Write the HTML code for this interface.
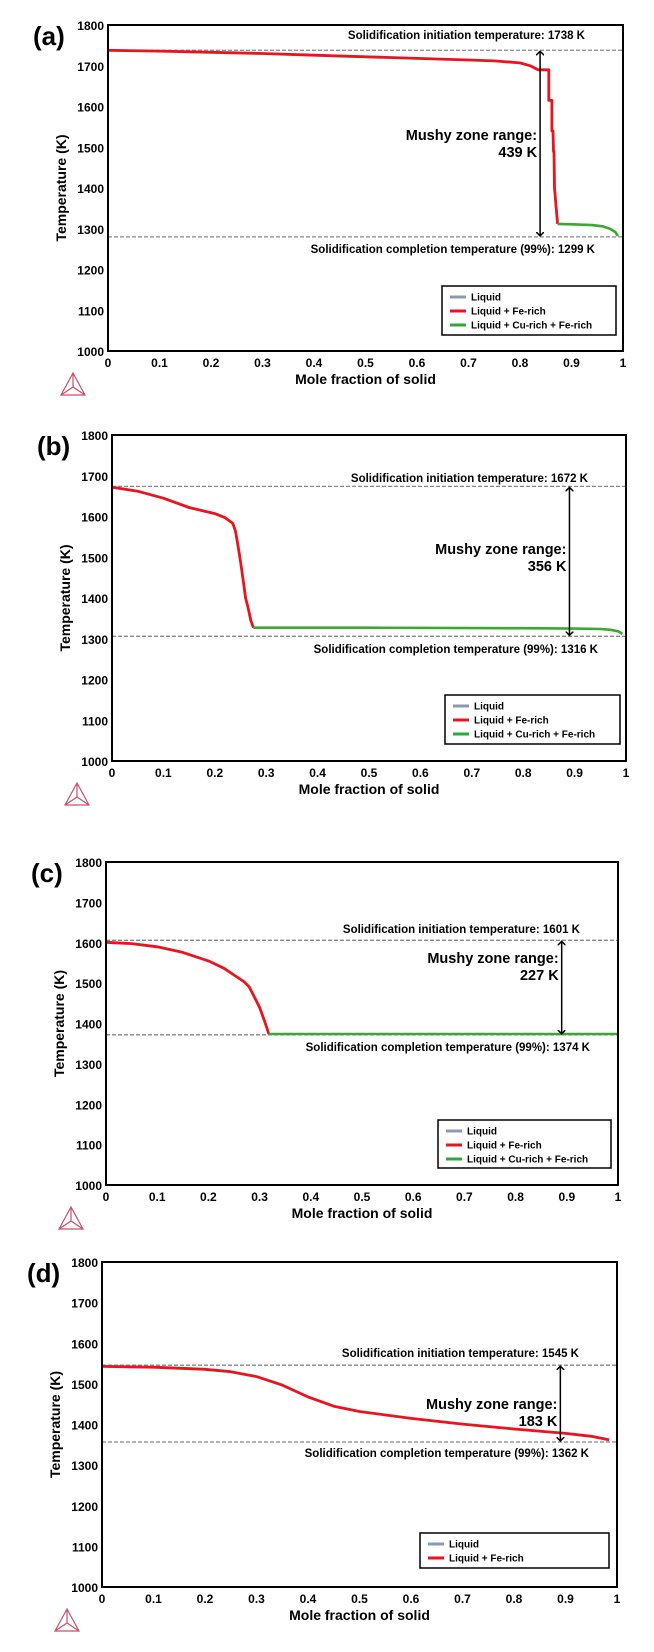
<!DOCTYPE html>
<html><head><meta charset="utf-8">
<style>
body{margin:0;background:#fff;width:654px;height:1652px;overflow:hidden}
svg{display:block;font-family:"Liberation Sans",sans-serif}
</style></head>
<body>
<svg id="fig" width="654" height="1652" viewBox="0 0 654 1652"></svg>
<script>
const xTicks=[0,0.1,0.2,0.3,0.4,0.5,0.6,0.7,0.8,0.9,1];
const xTickLabels=["0","0.1","0.2","0.3","0.4","0.5","0.6","0.7","0.8","0.9","1"];
const yTicks=[1000,1100,1200,1300,1400,1500,1600,1700,1800];
const panelLetters=["(a)","(b)","(c)","(d)"];
// panel a
const aRedX=[0,0.1,0.2,0.3,0.4,0.5,0.6,0.7,0.75,0.8,0.82,0.835,0.856,0.856,0.862,0.862,0.864,0.865,0.866,0.867,0.873];
const aRedT=[1738,1736,1733,1730,1726,1722,1718,1714,1712,1707,1700,1690,1690,1615,1615,1540,1540,1490,1490,1400,1312];
const aGreenX=[0.873,0.9,0.94,0.96,0.975,0.985,0.99];
const aGreenT=[1312,1311,1309,1306,1300,1292,1282];
const aLines=[1738,1280];
// panel b
const bRedX=[0,0.05,0.1,0.15,0.2,0.22,0.235,0.24,0.245,0.25,0.255,0.26,0.265,0.27,0.275];
const bRedT=[1672,1662,1645,1622,1607,1597,1583,1565,1530,1490,1445,1400,1375,1345,1327];
const bGreenX=[0.275,0.5,0.8,0.9,0.95,0.97,0.985,0.993];
const bGreenT=[1327,1327,1326,1325,1324,1322,1318,1312];
const bLines=[1674,1306];
// panel c
const cRedX=[0,0.05,0.1,0.15,0.2,0.23,0.25,0.27,0.28,0.29,0.3,0.31,0.318];
const cRedT=[1601,1598,1590,1576,1555,1537,1520,1503,1490,1465,1440,1405,1374];
const cGreenX=[0.318,0.6,1];
const cGreenT=[1374,1374,1374];
const cLines=[1606,1372];
// panel d
const dRedX=[0,0.1,0.2,0.25,0.3,0.35,0.4,0.45,0.5,0.6,0.7,0.8,0.9,0.95,0.985];
const dRedT=[1543,1541,1536,1530,1518,1497,1468,1445,1432,1415,1401,1389,1378,1371,1362];
const dLines=[1546,1357];

const panels=[
 {box:[108,25,623,351],red:[aRedX,aRedT],green:[aGreenX,aGreenT],lines:aLines,arrowX:0.839,
  init:"Solidification initiation temperature: 1738 K",comp:"Solidification completion temperature (99%): 1299 K",
  mushy:"439 K",initY:39,compY:253,mushyY:140,legend:[442,286,616,335],three:true},
 {box:[112,435,626,761],red:[bRedX,bRedT],green:[bGreenX,bGreenT],lines:bLines,arrowX:0.89,
  init:"Solidification initiation temperature: 1672 K",comp:"Solidification completion temperature (99%): 1316 K",
  mushy:"356 K",initY:482,compY:653,mushyY:554,legend:[445,695,620,744],three:true},
 {box:[106,862,618,1185],red:[cRedX,cRedT],green:[cGreenX,cGreenT],lines:cLines,arrowX:0.89,
  init:"Solidification initiation temperature: 1601 K",comp:"Solidification completion temperature (99%): 1374 K",
  mushy:"227 K",initY:933,compY:1051,mushyY:963,legend:[438,1120,611,1168],three:true},
 {box:[102,1262,617,1587],red:[dRedX,dRedT],green:null,lines:dLines,arrowX:0.89,
  init:"Solidification initiation temperature: 1545 K",comp:"Solidification completion temperature (99%): 1362 K",
  mushy:"183 K",initY:1357,compY:1457,mushyY:1409,legend:[420,1533,609,1568],three:false}
];
const NS="http://www.w3.org/2000/svg";
const svg=document.getElementById('fig');
function mk(tag,attrs,parent,text){const e=document.createElementNS(NS,tag);for(const k in attrs)e.setAttribute(k,attrs[k]);if(text!==undefined)e.textContent=text;(parent||svg).appendChild(e);return e;}
const defs=mk('defs',{});
const mkr=mk('marker',{id:'ah',markerWidth:8,markerHeight:8,refX:4,refY:4,orient:'auto-start-reverse',markerUnits:'userSpaceOnUse'},defs);
mk('path',{d:'M0,0 L4,4 L0,8',fill:'none',stroke:'#000','stroke-width':1.5},mkr);

panels.forEach((p,i)=>{
 const [x0,y0,x1,y1]=p.box;
 const sx=v=>x0+v*(x1-x0);
 const sy=t=>y1-(t-1000)/800*(y1-y0);
 const g=mk('g',{});
 
 
 const lt=mk('text',{x:x0-75,y:y0+20,'font-size':26,'font-weight':'bold'},g,panelLetters[i]);
 
 
 yTicks.forEach(t=>{const e=mk('text',{x:x0-4,y:sy(t)+5,'font-size':12,'font-weight':'bold','text-anchor':'end'},g,String(t));
  });
 xTicks.forEach((v,j)=>{const e=mk('text',{x:sx(v),y:y1+16,'font-size':12,'font-weight':'bold','text-anchor':'middle'},g,xTickLabels[j]);
  });
 const xt=mk('text',{x:(x0+x1)/2,y:y1+33,'font-size':14,'font-weight':'bold','text-anchor':'middle'},g,'Mole fraction of solid');
 
 const yc=(y0+y1)/2;
 const yt=mk('text',{x:x0-42,y:yc,'font-size':14,'font-weight':'bold','text-anchor':'middle',transform:`rotate(-90 ${x0-42} ${yc})`},g,'Temperature (K)');
 
 p.lines.forEach(t=>{const l=mk('line',{x1:x0,x2:x1,y1:sy(t),y2:sy(t),stroke:'#888','stroke-width':1.3,'stroke-dasharray':'4,2'},g);
  });
 const path=(xs,ts)=>xs.map((v,k)=>(k?'L':'M')+sx(v).toFixed(1)+','+sy(ts[k]).toFixed(1)).join(' ');
 const r=mk('path',{d:path(p.red[0],p.red[1]),fill:'none',stroke:'#e8141e','stroke-width':2.8,'stroke-linejoin':'round'},g);
 
 if(p.green){const gr=mk('path',{d:path(p.green[0],p.green[1]),fill:'none',stroke:'#3aa832','stroke-width':2.6},g);
  }
 const fr=mk('rect',{x:x0,y:y0,width:x1-x0,height:y1-y0,fill:'none',stroke:'#000','stroke-width':2},g);
 
 const ax=sx(p.arrowX);
 const ar=mk('line',{x1:ax,x2:ax,y1:sy(p.lines[0])+1,y2:sy(p.lines[1])-1,stroke:'#000','stroke-width':1.5,'marker-start':'url(#ah)','marker-end':'url(#ah)'},g);
 
 const m1=mk('text',{x:ax-3,y:p.mushyY,'font-size':14.5,'font-weight':'bold','text-anchor':'end'},g,'Mushy zone range:');
 
 const m2=mk('text',{x:ax-3,y:p.mushyY+17,'font-size':14.5,'font-weight':'bold','text-anchor':'end'},g,p.mushy);
 
 const ti=mk('text',{x:x1-38,y:p.initY,'font-size':11.5,'font-weight':'bold','text-anchor':'end'},g,p.init);
 
 const tc=mk('text',{x:x1-28,y:p.compY,'font-size':11.5,'font-weight':'bold','text-anchor':'end'},g,p.comp);
 
 const [lx0,ly0,lx1,ly1]=p.legend;
 const lg=mk('g',{},g);
 
 mk('rect',{x:lx0,y:ly0,width:lx1-lx0,height:ly1-ly0,fill:'#fff',stroke:'#000','stroke-width':1.5},lg);
 const entries=p.three?[['Liquid','#8a9bb0'],['Liquid + Fe-rich','#e8141e'],['Liquid + Cu-rich + Fe-rich','#2fa83a']]:[['Liquid','#8a9bb0'],['Liquid + Fe-rich','#e8141e']];
 entries.forEach((en,k)=>{const yy=ly0+11+k*14;
  const eg=mk('g',{},lg);
  
  mk('line',{x1:lx0+8,x2:lx0+24,y1:yy,y2:yy,stroke:en[1],'stroke-width':3},eg);
  mk('text',{x:lx0+29,y:yy+3.5,'font-size':10,'font-weight':'bold'},eg,en[0]);});
 const lgx=x0-47,lgy=y1+22;
 const logo=mk('g',{stroke:'#c8506a','stroke-width':1.2,fill:'none'},g);
 
 mk('path',{d:`M${lgx+12},${lgy} L${lgx},${lgy+22} L${lgx+24},${lgy+22} Z M${lgx+12},${lgy} L${lgx+12},${lgy+14} L${lgx},${lgy+22} M${lgx+12},${lgy+14} L${lgx+24},${lgy+22}`},logo);
});
</script>
</body></html>
